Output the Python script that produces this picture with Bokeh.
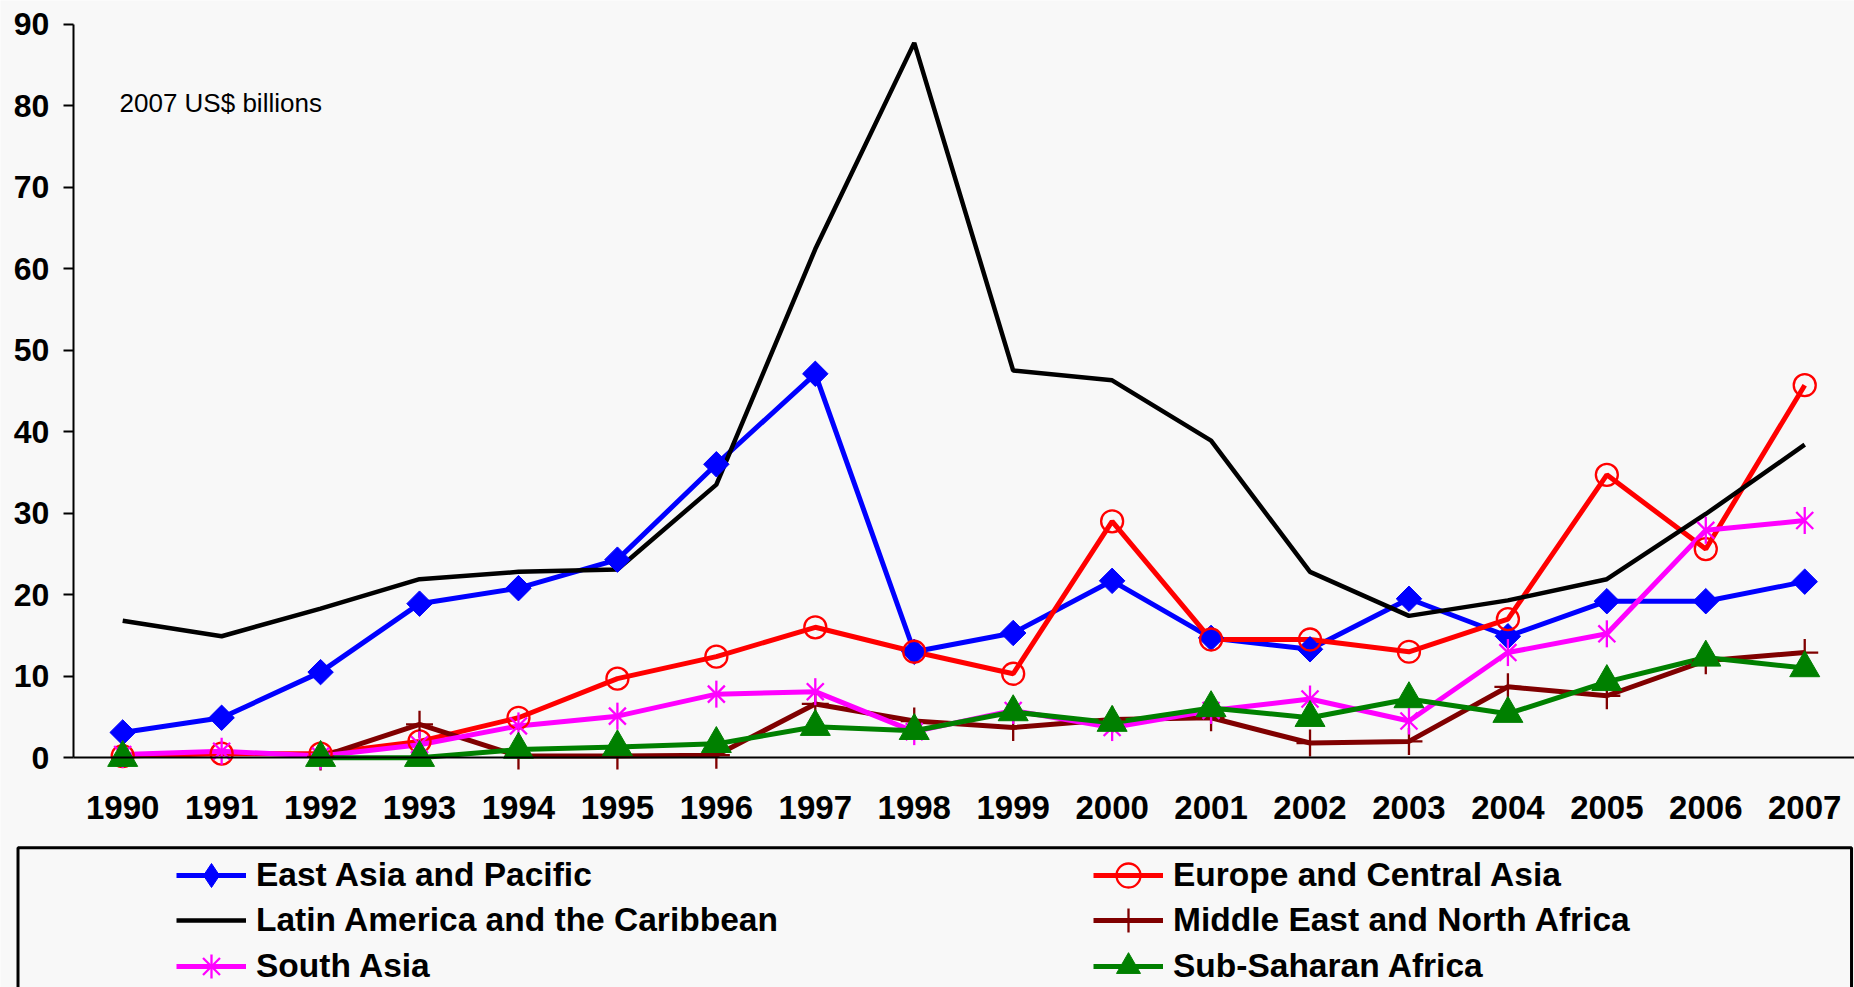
import numpy as np
from bokeh.plotting import figure
from bokeh.models import (Range1d, Legend, LegendItem, Label, FixedTicker,
                          ColumnDataSource, LinearAxis, BoxAnnotation)
from bokeh.embed import file_html
from bokeh.resources import INLINE

nan = float("nan")

years = list(range(1990, 2008))
y_ticks = [0, 10, 20, 30, 40, 50, 60, 70, 80, 90]

east_asia = [3.1, 4.9, 10.5, 18.9, 20.8, 24.3, 36.0, 47.1, 13.0, 15.3, 21.7, 14.7, 13.3, 19.5, 14.9, 19.2, 19.2, 21.6]
europe = [0.2, 0.5, 0.5, 2.0, 4.9, 9.7, 12.4, 16.0, 13.0, 10.3, 29.0, 14.5, 14.5, 13.0, 17.0, 34.7, 25.6, 45.7]
latin = [16.8, 14.9, 18.3, 21.9, 22.8, 23.1, 33.5, 62.4, 87.7, 47.5, 46.3, 38.9, 22.8, 17.4, 19.3, 21.9, 29.9, 38.4]
mena = [nan, nan, 0.1, 4.1, 0.2, 0.2, 0.3, 6.6, 4.5, 3.7, 4.7, 4.9, 1.8, 2.0, 8.7, 7.6, 11.9, 12.9]
south_asia = [0.4, 0.8, 0.2, 1.6, 3.9, 5.1, 7.8, 8.1, 3.2, 5.8, 3.7, 5.8, 7.2, 4.5, 12.9, 15.2, 27.9, 29.1]
ssa = [0.0, nan, 0.0, 0.0, 1.0, 1.3, 1.7, 3.8, 3.3, 5.6, 4.3, 6.1, 4.9, 7.2, 5.4, 9.3, 12.3, 11.0]

names = ["East Asia and Pacific", "Europe and Central Asia",
         "Latin America and the Caribbean", "Middle East and North Africa",
         "South Asia", "Sub-Saharan Africa"]
colors = ["#0000ff", "#ff0000", "#000000", "#800000", "#ff00ff", "#008000"]

src = ColumnDataSource(dict(
    year=np.array(years, dtype=float),
    eap=np.array(east_asia, dtype=float),
    eca=np.array(europe, dtype=float),
    lac=np.array(latin, dtype=float),
    mena=np.array(mena, dtype=float),
    sa=np.array(south_asia, dtype=float),
    ssa=np.array(ssa, dtype=float),
))

FONT = "Liberation Sans"
BG = "#f8f8f8"
LW = 5

# frame covers the whole canvas; axes are pinned at x=1989.5 / y=0
W, H = 1854, 987
X0, X1 = 1988.765, 2007.503
Y0, Y1 = -28.19, 92.896

p = figure(width=W, height=H,
           x_range=Range1d(X0, X1), y_range=Range1d(Y0, Y1),
           x_axis_type=None, y_axis_type=None,
           output_backend="svg", toolbar_location=None,
           min_border_left=0, min_border_right=0,
           min_border_top=0, min_border_bottom=0,
           background_fill_color=BG, border_fill_color=BG)
p.outline_line_color = None

yaxis = LinearAxis(ticker=FixedTicker(ticks=y_ticks), fixed_location=1989.5,
                   bounds=(0, 90))
yaxis.minor_tick_line_color = None
yaxis.major_tick_out = 10
yaxis.major_tick_in = 0
yaxis.major_tick_line_width = 2
yaxis.axis_line_width = 2
yaxis.major_label_standoff = 14
yaxis.major_label_text_font = FONT
yaxis.major_label_text_font_style = "bold"
yaxis.major_label_text_font_size = "32px"
yaxis.major_label_text_color = "black"
p.add_layout(yaxis, "left")

xaxis = LinearAxis(ticker=FixedTicker(ticks=years), fixed_location=0,
                   bounds=(1989.5, 2008))
xaxis.major_tick_line_color = None
xaxis.minor_tick_line_color = None
xaxis.major_tick_out = 0
xaxis.major_tick_in = 0
xaxis.axis_line_width = 2
xaxis.major_label_standoff = 38
xaxis.major_label_text_font = FONT
xaxis.major_label_text_font_style = "bold"
xaxis.major_label_text_font_size = "33px"
xaxis.major_label_text_color = "black"
p.add_layout(xaxis, "below")

# lines first
l_eap = p.line("year", "eap", source=src, line_color=colors[0], line_width=LW)
l_eca = p.line("year", "eca", source=src, line_color=colors[1], line_width=LW)
l_lac = p.line("year", "lac", source=src, line_color=colors[2], line_width=4.5)
l_mena = p.line("year", "mena", source=src, line_color=colors[3], line_width=LW)
l_sa = p.line("year", "sa", source=src, line_color=colors[4], line_width=LW)
l_ssa = p.line("year", "ssa", source=src, line_color=colors[5], line_width=LW)

# then markers
m_eap = p.scatter("year", "eap", source=src, marker="square", angle=np.pi / 4, size=18,
                  fill_color=colors[0], line_color=colors[0], line_width=1)
m_eca = p.scatter("year", "eca", source=src, marker="circle", size=22,
                  fill_color=None, line_color=colors[1], line_width=2.3)
m_mena = p.scatter("year", "mena", source=src, marker="cross", size=27,
                   line_color=colors[3], line_width=2.3)
m_sa1 = p.scatter("year", "sa", source=src, marker="x", size=24,
                  line_color=colors[4], line_width=2.3)
m_sa2 = p.scatter("year", "sa", source=src, marker="dash", size=27, angle=np.pi / 2,
                  line_color=colors[4], line_width=2.3)
m_ssa = p.scatter("year", "ssa", source=src, marker="triangle", size=30,
                  fill_color=colors[5], line_color=colors[5], line_width=1)

# legend-only sample glyphs (not drawn in the plot area)
k_eap = p.scatter("year", "eap", source=src, marker="diamond", visible=False,
                  fill_color=colors[0], line_color=colors[0], line_width=1)
k_sa = p.scatter("year", "sa", source=src, marker="cross", visible=False,
                 line_color=colors[4], line_width=2.3)

p.add_layout(Label(x=1989.968, y=80.35, text="2007 US$ billions",
                   text_font=FONT, text_font_size="26px", text_color="black",
                   text_baseline="alphabetic", text_align="left"))

# legend frame (open at the bottom edge of the picture)
p.add_layout(BoxAnnotation(left=1988.942, right=2007.473, top=-11.04, bottom=-60,
                           fill_color=None, fill_alpha=0,
                           line_color="black", line_alpha=1.0, line_width=3))

rows = [
    [LegendItem(label=names[0], renderers=[l_eap, k_eap]),
     LegendItem(label=names[1], renderers=[l_eca, m_eca])],
    [LegendItem(label=names[2], renderers=[l_lac]),
     LegendItem(label=names[3], renderers=[l_mena, m_mena])],
    [LegendItem(label=names[4], renderers=[l_sa, m_sa1, k_sa]),
     LegendItem(label=names[5], renderers=[l_ssa, m_ssa])],
]
row_centers = [874.5, 920.0, 965.5]   # pixel rows of the legend entries
GH = 60
for its, cy in zip(rows, row_centers):
    lg = Legend(items=its, orientation="horizontal",
                location=(176, H - GH - (cy - GH / 2)),
                glyph_width=70, glyph_height=GH, spacing=0,
                label_standoff=10, label_width=837, padding=0, margin=0,
                label_text_font=FONT, label_text_font_style="bold",
                label_text_font_size="33.5px", label_text_color="black",
                border_line_color=None, background_fill_alpha=0,
                click_policy="none")
    p.add_layout(lg, "center")

open("out.html", "w").write(file_html(p, INLINE))
